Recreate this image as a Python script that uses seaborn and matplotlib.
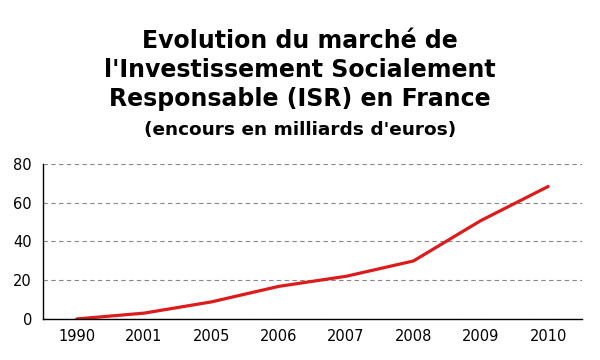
import pandas as pd
import matplotlib
matplotlib.use("Agg")
import matplotlib.pyplot as plt
import seaborn as sns

# data
years = ["1990", "2001", "2005", "2006", "2007", "2008", "2009", "2010"]
encours = [0, 3, 8.8, 16.8, 22, 29.9, 50.7, 68.3]

title_lines = "Evolution du marché de\nl'Investissement Socialement\nResponsable (ISR) en France"
subtitle = "(encours en milliards d'euros)"

sns.set_style("white")
plt.rcParams['font.family'] = ['DejaVu Sans']
plt.rcParams['text.color'] = 'black'
plt.rcParams['xtick.color'] = 'black'
plt.rcParams['ytick.color'] = 'black'

df = pd.DataFrame({"pos": range(len(years)), "encours": encours})

fig = plt.figure(figsize=(6, 3.6), dpi=100)
ax = fig.add_axes([0.0717, 0.114, 0.898, 0.431])

sns.lineplot(data=df, x="pos", y="encours", ax=ax, color="#dc1c1c", linewidth=2.3)

ax.set_xlim(-0.5, len(years) - 0.5)
ax.set_ylim(0, 80)
ax.set_yticks([0, 20, 40, 60, 80])
ax.set_xticks(range(len(years)))
ax.set_xticklabels(years)
ax.set_xticks([i - 0.5 for i in range(len(years) + 1)], minor=True)
ax.tick_params(axis="x", which="major", length=0, pad=7, labelsize=10.5)
ax.tick_params(axis="x", which="minor", length=5, width=1, color="black", direction="out")
ax.tick_params(axis="y", length=5, width=1, color="black", direction="out", labelsize=10.5, pad=3)
ax.set_xlabel("")
ax.set_ylabel("")

ax.yaxis.grid(True, linestyle=(0, (4, 3)), color="#888888", linewidth=0.8)
ax.set_axisbelow(True)
for side in ["top", "right"]:
    ax.spines[side].set_visible(False)
for side in ["left", "bottom"]:
    ax.spines[side].set_color("black")
    ax.spines[side].set_linewidth(1)

fig.text(0.5, 0.806, title_lines, ha="center", va="center", fontsize=17,
         fontweight="bold", linespacing=1.28, color="black")
fig.text(0.5, 0.639, subtitle, ha="center", va="center", fontsize=13.3,
         fontweight="bold", color="black")

fig.savefig("out.png", dpi=100)
